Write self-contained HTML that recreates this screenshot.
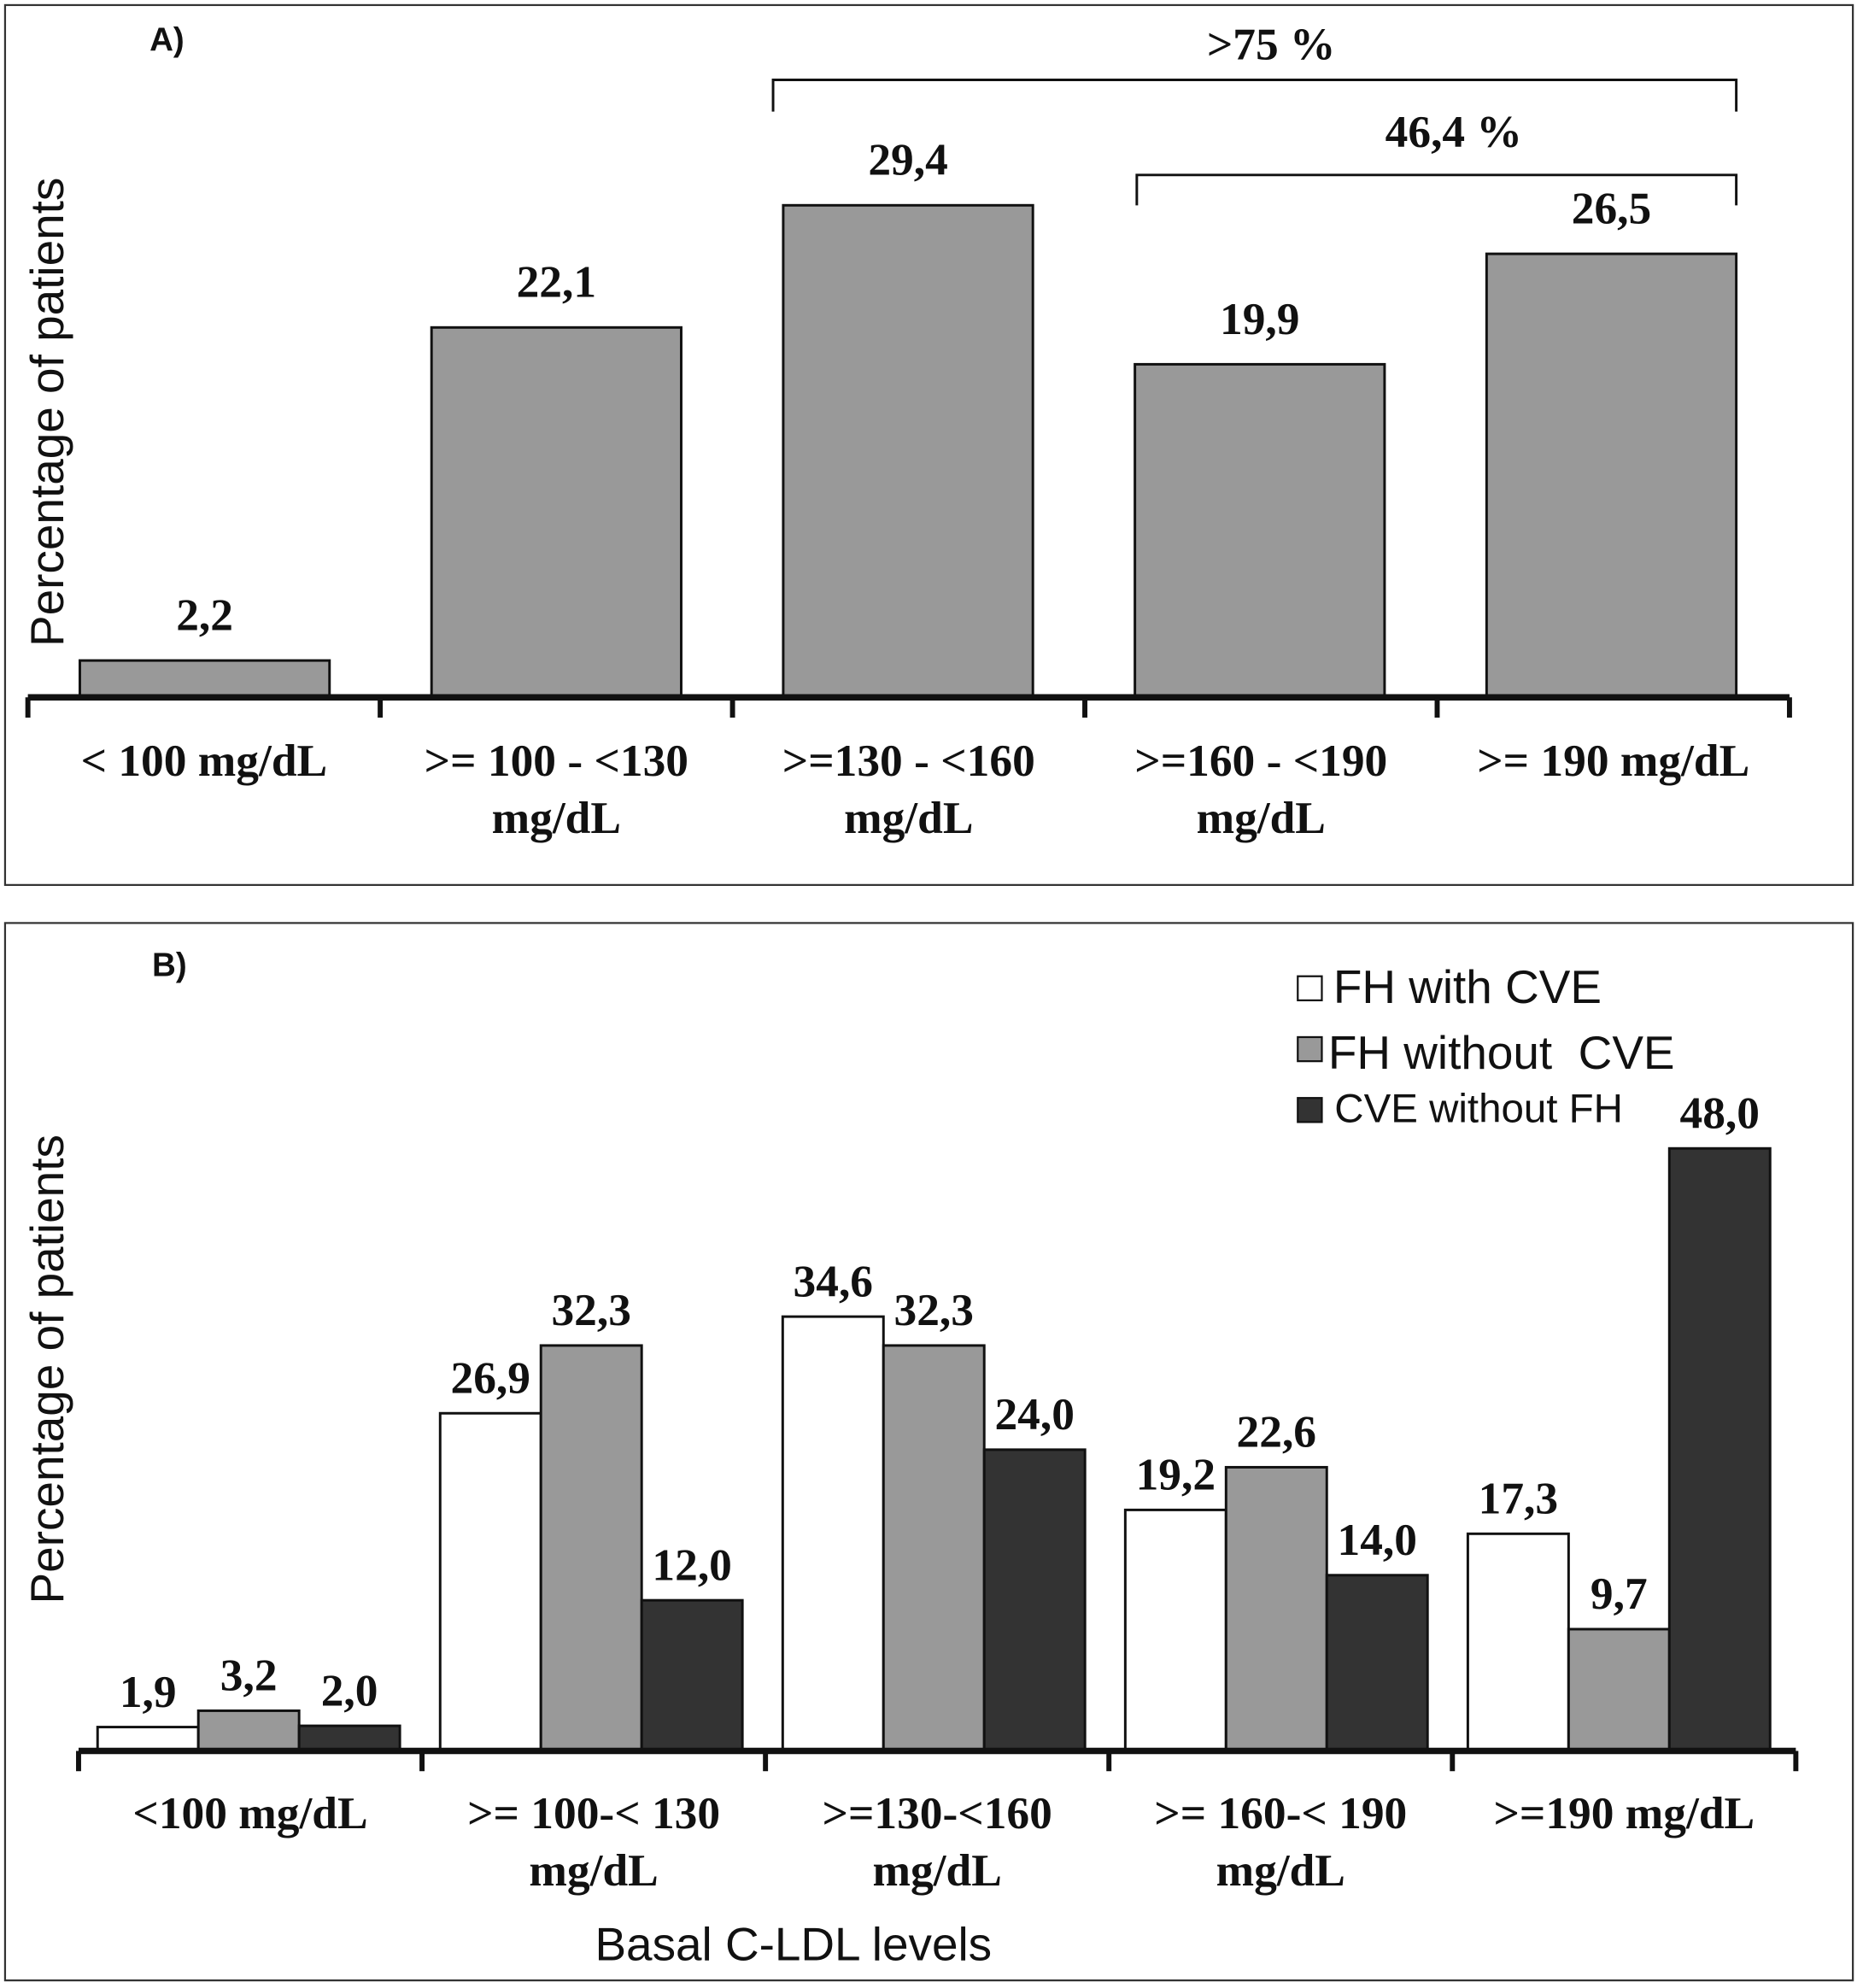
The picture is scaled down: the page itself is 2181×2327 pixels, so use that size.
<!DOCTYPE html>
<html><head><meta charset="utf-8"><style>
html,body{margin:0;padding:0;background:#fff}
svg{display:block}
.v{font-family:"Liberation Serif",serif;font-weight:bold;font-size:36px;text-anchor:middle;fill:#111}
.c{font-family:"Liberation Serif",serif;font-weight:bold;font-size:36px;text-anchor:middle;fill:#111}
.s{font-family:"Liberation Sans",sans-serif;fill:#111}
</style></head><body>
<svg id="fig" width="2181" height="2327" viewBox="0 0 1470 1568" preserveAspectRatio="none" xmlns="http://www.w3.org/2000/svg">
<rect x="4" y="4" width="1458" height="694" fill="#fff" stroke="#333" stroke-width="1.5"/>
<rect x="4" y="728" width="1458" height="834" fill="#fff" stroke="#333" stroke-width="1.5"/>
<text x="118" y="40" class="s" font-size="26" font-weight="bold">A)</text>
<text x="120" y="770" class="s" font-size="26" font-weight="bold">B)</text>
<text transform="translate(50,325) rotate(-90)" class="s" font-size="37" text-anchor="middle">Percentage of patients</text>
<text transform="translate(50,1080) rotate(-90)" class="s" font-size="37" text-anchor="middle">Percentage of patients</text>
<text x="626" y="1546" class="s" font-size="37" text-anchor="middle">Basal C-LDL levels</text>
<path d="M610,88 V63 H1370 V88" fill="none" stroke="#111" stroke-width="2"/>
<text x="1003" y="47" class="v">&gt;75 %</text>
<path d="M897,162 V138 H1370 V162" fill="none" stroke="#111" stroke-width="2"/>
<text x="1147" y="116" class="v">46,4 %</text>
<g id="a"></g><g id="b"></g>
<g>
<rect x="1024" y="770" width="19" height="19" fill="#fff" stroke="#111" stroke-width="1.5"/>
<text x="1052" y="791" class="s" font-size="37">FH with CVE</text>
<rect x="1024" y="818" width="19" height="19" fill="#999" stroke="#111" stroke-width="1.5"/>
<text x="1048" y="843" class="s" font-size="37" xml:space="preserve">FH without  CVE</text>
<rect x="1024" y="866" width="19" height="19" fill="#333" stroke="#111" stroke-width="1.5"/>
<text x="1053" y="885" class="s" font-size="32">CVE without FH</text>
</g>
</svg>
<script>
const catsA=[["< 100 mg/dL"],[">= 100 - <130","mg/dL"],[">=130 - <160","mg/dL"],[">=160 - <190","mg/dL"],[">= 190 mg/dL"]];
const valsA=[2.2,22.1,29.4,19.9,26.5];
const labelsA=["2,2","22,1","29,4","19,9","26,5"];
const catsB=[["<100 mg/dL"],[">= 100-< 130","mg/dL"],[">=130-<160","mg/dL"],[">= 160-< 190","mg/dL"],[">=190 mg/dL"]];
const fhWith=[1.9,26.9,34.6,19.2,17.3];
const fhWithout=[3.2,32.3,32.3,22.6,9.7];
const cveWithout=[2.0,12.0,24.0,14.0,48.0];
const seriesB=[fhWith,fhWithout,cveWithout];
const seriesNames=["fh-with-cve","fh-without-cve","cve-without-fh"];
const fills=["#fff","#999","#333"];
const NS="http://www.w3.org/2000/svg";
function mk(p,t,a){const e=document.createElementNS(NS,t);for(const k in a)e.setAttribute(k,a[k]);p.appendChild(e);return e;}
function fmt(v){return v.toFixed(1).replace(".",",");}
const gA=document.getElementById("a");
const A0=22,AS=278,AY=550,AK=13.2;
const yA=v=>AY-v*AK;
valsA.forEach((v,i)=>{
 const x=63+i*277.5;
 const r=mk(gA,"rect",{x:x,y:yA(v),width:197,height:AY-yA(v),fill:"#999",stroke:"#111","stroke-width":2});
 
 
 const t=mk(gA,"text",{x:x+98.5,y:yA(v)-24,class:"v"});t.textContent=labelsA[i];
 
 
 catsA[i].forEach((s,j)=>{const c=mk(gA,"text",{x:A0+i*AS+AS/2,y:612+j*45,class:"c"});c.textContent=s;
  
  });
});
const axA=mk(gA,"line",{x1:A0,x2:A0+5*AS,y1:AY,y2:AY,stroke:"#111","stroke-width":5});


for(let i=0;i<=5;i++){const l=mk(gA,"line",{x1:A0+i*AS,x2:A0+i*AS,y1:AY,y2:AY+16,stroke:"#111","stroke-width":4});
 
 }
const gB=document.getElementById("b");
const B0=62,BS=271,BY=1381,BK=9.9,BW=79.5;
const yB=v=>BY-v*BK;
seriesB.forEach((ser,s)=>ser.forEach((v,i)=>{
 const x=77+i*270.3+s*BW;
 const r=mk(gB,"rect",{x:x,y:yB(v),width:BW,height:BY-yB(v),fill:fills[s],stroke:"#111","stroke-width":2});
 
 
 const t=mk(gB,"text",{x:x+BW/2,y:yB(v)-16,class:"v"});t.textContent=fmt(v);
 
 
}));
catsB.forEach((cs,i)=>cs.forEach((s,j)=>{const c=mk(gB,"text",{x:B0+i*BS+BS/2,y:1442+j*45,class:"c"});c.textContent=s;
 
 }));
const axB=mk(gB,"line",{x1:B0,x2:B0+5*BS,y1:BY,y2:BY,stroke:"#111","stroke-width":5});


for(let i=0;i<=5;i++){const l=mk(gB,"line",{x1:B0+i*BS,x2:B0+i*BS,y1:BY,y2:BY+16,stroke:"#111","stroke-width":4});
 
 }
</script>
</body></html>
